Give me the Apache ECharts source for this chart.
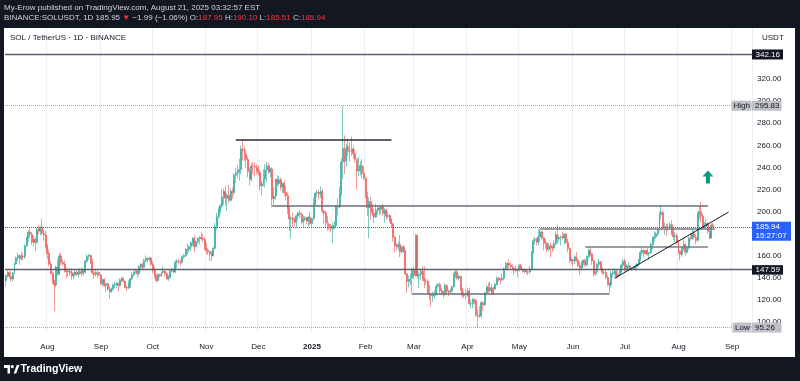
<!DOCTYPE html>
<html><head><meta charset="utf-8">
<script src="https://cdn.jsdelivr.net/npm/echarts@6/dist/echarts.min.js"></script>
<style>html,body{margin:0;padding:0;background:#131722}#c{width:800px;height:381px}</style>
</head><body><div id="c"></div>
<script>
// ---- DATA: daily SOL/USDT candles, each [open, close, low, high] ----
const jul24 = [[137.6,142.0,132.5,143.5],[142.0,144.9,140.5,147.0],[144.9,141.6,139.5,146.5],[141.6,139.1,136.8,146.0],[139.1,144.6,137.0,145.5],[144.6,152.9,144.0,154.5],[152.9,158.2,151.8,159.5],[158.2,160.4,155.5,162.8],[160.4,158.0,152.0,161.2],[158.0,159.6,156.0,163.5],[159.6,159.3,156.2,162.0],[159.3,168.9,157.5,170.5],[168.9,176.9,168.0,177.5],[176.9,181.7,172.5,183.2],[181.7,179.6,176.0,185.0],[179.6,172.4,170.0,181.5],[172.4,175.0,168.5,178.0],[175.0,172.1,164.5,176.5],[172.1,184.1,171.5,186.0],[184.1,182.5,179.5,188.0],[182.5,186.0,179.0,187.2],[186.0,180.2,178.5,193.7],[180.2,179.0,174.0,184.0],[179.0,168.9,167.0,182.5]];
const aug24 = [[168.9,162.3,157.0,170.5],[162.3,152.6,151.0,166.0],[152.6,144.6,142.5,155.0],[144.6,137.0,134.5,146.0],[137.0,133.8,110.0,138.5],[133.8,150.0,131.5,151.5],[150.0,143.6,142.0,157.5],[143.6,160.0,142.5,163.0],[160.0,154.1,151.5,162.5],[154.1,152.6,151.0,156.5],[152.6,146.2,145.0,156.0],[146.2,145.8,139.5,149.5],[145.8,146.2,141.5,148.5],[146.2,144.7,142.0,149.0],[144.7,141.9,138.5,149.0],[141.9,143.0,139.0,145.5],[143.0,145.5,141.5,147.0],[145.5,143.0,142.0,148.0],[143.0,145.9,140.5,147.5],[145.9,143.8,143.0,149.0],[143.8,147.2,141.5,149.5],[147.2,145.3,142.0,148.5],[145.3,155.2,144.5,156.5],[155.2,159.6,154.0,161.5],[159.6,160.5,156.5,162.0],[160.5,154.5,152.5,161.0],[154.5,144.8,143.0,157.5],[144.8,143.3,139.0,147.0],[143.3,145.2,141.5,148.5],[145.2,145.2,140.0,146.5],[145.2,143.0,142.0,145.5]];
const sep24 = [[143.0,135.0,133.0,143.5],[135.0,138.5,132.5,139.5],[138.5,133.2,132.0,140.0],[133.2,134.9,127.5,135.8],[134.9,130.0,128.5,136.0],[130.0,127.8,121.5,132.5],[127.8,130.1,126.5,131.5],[130.1,133.8,128.0,135.0],[133.8,134.7,130.5,137.0],[134.7,135.2,131.0,136.8],[135.2,133.3,128.0,136.0],[133.3,138.5,132.5,139.5],[138.5,139.9,136.5,141.5],[139.9,137.0,136.0,140.5],[137.0,131.5,130.5,138.0],[131.5,131.0,128.5,133.5],[131.0,134.6,130.0,138.0],[134.6,139.4,131.0,140.0],[139.4,143.0,138.0,145.5],[143.0,145.2,141.5,147.0],[145.2,146.3,144.0,147.5],[146.3,143.9,140.5,147.0],[143.9,150.4,142.5,151.5],[150.4,152.2,146.5,153.5],[152.2,149.8,148.0,154.0],[149.8,155.7,148.5,157.5],[155.7,157.9,154.5,160.5],[157.9,157.1,154.0,158.5],[157.1,158.0,155.0,159.0],[158.0,152.5,151.0,159.0]];
const oct24 = [[152.5,146.5,144.0,155.0],[146.5,142.0,140.0,150.5],[142.0,137.7,136.0,143.0],[137.7,143.3,137.0,144.5],[143.3,142.0,140.5,144.0],[142.0,145.2,141.0,146.0],[145.2,146.2,143.5,150.5],[146.2,143.8,141.5,147.0],[143.8,139.3,138.5,145.5],[139.3,140.5,137.5,143.0],[140.5,146.3,139.5,148.0],[146.3,147.5,145.0,149.0],[147.5,145.5,144.0,148.5],[145.5,154.3,144.5,156.0],[154.3,155.2,149.0,157.5],[155.2,155.0,152.0,158.0],[155.0,154.0,151.5,156.5],[154.0,159.4,153.0,160.5],[159.4,160.5,157.5,162.0],[160.5,166.0,159.0,167.0],[166.0,165.8,161.5,171.0],[165.8,168.2,163.0,169.5],[168.2,171.9,164.0,173.5],[171.9,175.9,169.0,177.0],[175.9,168.4,163.5,179.0],[168.4,173.1,167.5,174.0],[173.1,175.9,170.5,177.0],[175.9,176.7,170.5,178.0],[176.7,175.6,174.0,181.5],[175.6,174.9,172.5,180.0],[174.9,166.6,165.0,177.0]];
const nov24 = [[166.6,165.2,161.5,172.0],[165.2,163.9,161.0,167.0],[163.9,161.9,155.5,164.5],[161.9,160.1,155.5,164.5],[160.1,166.9,159.5,168.5],[166.9,186.4,166.0,190.0],[186.4,195.4,183.5,199.0],[195.4,201.8,193.5,204.0],[201.8,205.3,198.5,207.0],[205.3,213.2,203.0,220.0],[213.2,218.1,206.0,221.0],[218.1,212.1,205.5,223.5],[212.1,215.1,200.5,217.0],[215.1,210.3,207.5,224.0],[210.3,218.3,209.0,221.5],[218.3,217.2,211.5,222.0],[217.2,233.0,215.0,235.0],[233.0,235.0,226.0,239.5],[235.0,237.3,230.0,242.5],[237.3,238.1,228.0,248.0],[238.1,256.8,234.0,260.0],[256.8,255.7,246.0,264.6],[255.7,252.2,246.0,259.0],[252.2,247.2,239.5,256.0],[247.2,236.3,231.0,250.0],[236.3,229.3,223.5,240.0],[229.3,241.1,227.0,243.5],[241.1,240.9,233.5,245.0],[240.9,240.1,232.0,244.5],[240.1,237.6,233.5,243.0]];
const dec24 = [[237.6,235.6,232.5,242.0],[235.6,223.3,219.0,237.5],[223.3,225.4,214.5,228.0],[225.4,229.6,223.0,238.5],[229.6,237.8,222.0,243.0],[237.8,241.5,227.0,245.0],[241.5,235.8,234.0,244.0],[235.8,238.5,231.0,240.0],[238.5,211.7,204.0,240.0],[211.7,214.1,206.0,222.0],[214.1,229.1,210.5,230.0],[229.1,225.5,222.5,233.0],[225.5,228.9,223.5,232.0],[228.9,222.0,219.0,231.0],[222.0,225.5,217.0,226.5],[225.5,217.2,214.0,228.0],[217.2,214.5,210.0,223.5],[214.5,203.0,198.0,218.0],[203.0,193.5,182.5,205.0],[193.5,194.2,175.5,196.5],[194.2,192.0,186.0,199.0],[192.0,190.5,186.5,195.0],[190.5,196.3,185.5,197.5],[196.3,198.7,192.0,200.0],[198.7,197.6,194.0,201.5],[197.6,190.8,188.5,199.0],[190.8,192.9,186.5,196.5],[192.9,194.4,191.5,196.0],[194.4,191.6,188.5,195.5],[191.6,195.1,186.0,196.0],[195.1,189.3,188.0,199.5]];
const jan25 = [[189.3,193.6,187.0,194.5],[193.6,207.9,192.5,213.0],[207.9,216.8,205.0,217.5],[216.8,217.5,213.0,220.0],[217.5,215.9,211.0,219.5],[215.9,218.3,212.5,223.0],[218.3,200.5,198.5,221.0],[200.5,198.6,189.0,201.5],[198.6,190.1,186.5,201.0],[190.1,188.5,183.0,196.0],[188.5,186.8,183.5,190.5],[186.8,184.5,181.5,189.0],[184.5,187.0,171.5,190.0],[187.0,187.4,184.0,191.5],[187.4,205.0,186.0,206.0],[205.0,204.3,196.5,212.0],[204.3,216.0,203.0,222.5],[216.0,245.0,214.5,248.5],[245.0,257.2,230.0,295.8],[257.2,245.4,234.0,269.0],[245.4,259.0,241.0,261.5],[259.0,254.6,250.0,266.0],[254.6,254.7,245.0,263.0],[254.7,256.8,250.5,268.0],[256.8,252.2,248.0,260.0],[252.2,247.5,244.5,256.5],[247.5,236.8,220.0,248.0],[236.8,237.8,232.5,250.0],[237.8,241.7,233.0,246.0],[241.7,234.7,230.5,247.5],[234.7,230.3,228.0,241.0]];
const feb25 = [[230.3,214.0,212.0,231.5],[214.0,203.5,196.0,218.0],[203.5,209.2,176.0,213.0],[209.2,201.8,192.5,213.5],[201.8,198.5,196.0,207.0],[198.5,195.2,190.0,203.0],[195.2,201.2,194.0,207.5],[201.2,203.3,197.5,205.5],[203.3,202.3,196.5,205.0],[202.3,204.5,197.5,206.0],[204.5,198.4,196.0,207.0],[198.4,201.3,190.0,203.5],[201.3,195.8,193.0,202.5],[195.8,196.6,193.5,200.0],[196.6,192.7,190.5,198.0],[192.7,189.1,185.5,194.0],[189.1,176.9,173.0,190.0],[176.9,169.0,163.0,178.0],[169.0,168.2,165.0,171.5],[168.2,170.4,165.0,173.0],[170.4,163.7,159.0,179.0],[163.7,168.3,162.0,169.0],[168.3,164.5,163.0,170.0],[164.5,143.9,142.5,165.0],[143.9,136.9,126.5,144.5],[136.9,138.8,131.5,142.0],[138.8,140.2,134.0,144.0],[140.2,147.9,125.5,149.5]];
const mar25 = [[147.9,142.5,139.0,150.5],[142.5,178.6,141.0,180.0],[178.6,141.9,139.5,179.5],[141.9,143.3,131.0,146.0],[143.3,146.2,138.5,148.5],[146.2,139.5,137.5,151.0],[139.5,137.4,131.0,150.5],[137.4,137.0,133.5,140.0],[137.0,126.2,125.5,139.0],[126.2,124.2,120.0,133.5],[124.2,123.7,114.5,126.5],[123.7,124.5,118.5,128.0],[124.5,125.5,121.5,129.0],[125.5,132.6,124.0,134.5],[132.6,134.2,130.5,135.5],[134.2,128.4,126.0,136.0],[128.4,127.4,124.5,131.0],[127.4,126.1,122.0,128.5],[126.1,133.3,124.0,135.5],[133.3,127.9,125.5,134.5],[127.9,127.3,123.5,130.0],[127.3,128.2,126.0,130.5],[128.2,132.1,127.0,133.0],[132.1,142.9,131.5,145.0],[142.9,145.6,140.0,147.0],[145.6,139.9,138.5,147.0],[139.9,141.6,137.5,143.5],[141.6,129.4,128.5,142.0],[129.4,124.5,121.5,131.0],[124.5,125.1,122.5,128.0],[125.1,124.6,120.5,130.0]];
const apr25 = [[124.6,128.3,123.0,131.0],[128.3,116.9,115.5,131.5],[116.9,117.0,112.5,120.5],[117.0,120.3,113.0,122.5],[120.3,119.8,116.5,121.5],[119.8,106.2,105.0,121.0],[106.2,105.5,95.3,111.5],[105.5,106.5,104.0,114.5],[106.5,117.8,103.5,119.5],[117.8,115.8,110.5,118.5],[115.8,126.6,114.5,128.0],[126.6,132.0,124.5,134.0],[132.0,128.3,125.0,136.0],[128.3,131.2,127.5,136.5],[131.2,126.2,125.0,134.5],[126.2,130.0,124.5,132.0],[130.0,134.2,129.0,135.5],[134.2,139.9,133.5,141.5],[139.9,138.7,136.5,141.0],[138.7,138.3,134.5,140.5],[138.3,139.6,137.5,144.5],[139.6,148.6,138.0,149.5],[148.6,151.2,148.0,155.0],[151.2,153.5,146.5,154.0],[153.5,151.7,148.5,157.0],[151.7,150.2,148.0,154.0],[150.2,149.0,147.0,152.5],[149.0,147.2,142.5,150.5],[147.2,146.8,144.5,151.5],[146.8,147.5,140.5,148.5]];
const may25 = [[147.5,151.2,146.0,153.0],[151.2,148.3,147.0,153.0],[148.3,146.0,145.0,149.0],[146.0,146.7,144.0,148.0],[146.7,145.7,143.5,148.0],[145.7,145.6,142.5,147.0],[145.6,147.4,143.5,151.0],[147.4,163.2,147.0,164.5],[163.2,174.0,162.0,176.0],[174.0,174.9,170.5,177.5],[174.9,172.5,169.5,176.5],[172.5,177.2,170.0,184.0],[177.2,181.8,172.5,185.0],[181.8,176.3,174.0,183.0],[176.3,172.0,165.0,177.5],[172.0,171.5,166.5,175.5],[171.5,165.8,163.0,172.5],[165.8,169.1,164.5,171.5],[169.1,167.5,158.5,172.0],[167.5,167.2,163.5,170.0],[167.2,171.3,165.5,174.0],[171.3,179.2,170.0,182.0],[179.2,175.5,170.5,188.0],[175.5,176.6,173.0,178.5],[176.6,177.2,169.5,178.5],[177.2,176.3,174.5,182.0],[176.3,179.6,170.5,180.5],[179.6,172.1,170.5,181.0],[172.1,166.5,163.5,175.5],[166.5,155.7,153.5,167.5],[155.7,156.5,152.5,158.5]];
const jun25 = [[156.5,155.4,150.5,157.5],[155.4,159.2,152.5,160.5],[159.2,156.0,154.5,163.5],[156.0,151.3,150.0,158.0],[151.3,149.0,142.5,154.5],[149.0,153.6,146.5,155.5],[153.6,156.1,151.5,157.0],[156.1,152.0,150.5,157.5],[152.0,159.4,150.5,160.5],[159.4,165.0,157.5,168.5],[165.0,162.0,159.5,168.0],[162.0,155.5,152.0,163.0],[155.5,143.4,141.5,157.0],[143.4,145.9,142.0,148.5],[145.9,152.3,143.5,153.5],[152.3,154.6,150.0,157.5],[154.6,148.7,147.0,155.5],[148.7,145.0,143.5,149.5],[145.0,145.0,143.0,148.0],[145.0,140.5,139.0,148.0],[140.5,135.4,132.5,142.5],[135.4,133.6,126.3,136.5],[133.6,144.1,131.5,146.0],[144.1,145.2,140.5,147.5],[145.2,146.2,142.5,149.0],[146.2,141.5,139.5,147.5],[141.5,143.3,140.0,146.0],[143.3,145.5,142.0,147.0],[145.5,151.6,144.5,153.0],[151.6,155.3,149.0,157.5]];
const jul25 = [[155.3,147.3,145.5,157.5],[147.3,150.9,146.0,152.5],[150.9,151.0,148.5,154.5],[151.0,148.1,147.0,152.0],[148.1,148.5,146.5,149.5],[148.5,149.5,147.5,151.0],[149.5,150.3,146.5,152.5],[150.3,152.4,148.5,153.5],[152.4,156.0,151.0,157.5],[156.0,163.1,155.0,165.0],[163.1,165.0,160.5,168.5],[165.0,162.0,159.0,166.5],[162.0,164.9,161.0,166.0],[164.9,162.0,160.0,168.0],[162.0,163.1,156.5,163.5],[163.1,170.3,162.0,172.5],[170.3,176.4,166.0,177.5],[176.4,177.3,173.0,182.5],[177.3,179.9,175.5,181.5],[179.9,183.3,178.0,186.5],[183.3,197.3,182.5,200.5],[197.3,199.3,193.0,206.3],[199.3,185.9,183.5,201.5],[185.9,186.3,179.0,190.5],[186.3,186.1,178.0,189.0],[186.1,185.8,182.5,189.5],[185.8,188.2,184.0,190.5],[188.2,180.5,178.5,192.5],[180.5,177.4,174.5,186.0],[177.4,178.3,172.5,181.5],[178.3,172.4,170.5,180.5]];
const aug25 = [[172.4,164.5,161.5,174.5],[164.5,161.3,155.8,165.5],[161.3,167.0,159.0,168.5],[167.0,170.2,165.0,176.0],[170.2,163.3,160.5,172.0],[163.3,167.7,162.0,169.5],[167.7,175.9,165.5,177.5],[175.9,175.8,173.5,181.0],[175.8,180.3,174.5,183.5],[180.3,177.0,175.0,183.0],[177.0,174.2,170.5,179.5],[174.2,198.0,172.5,200.5],[198.0,200.1,193.0,205.0],[200.1,195.8,190.5,209.2],[195.8,186.1,183.5,198.0],[186.1,186.8,184.5,190.5],[186.8,189.5,184.5,193.5],[189.5,182.1,180.0,190.5],[182.1,176.2,175.0,185.0],[176.2,187.95,175.5,189.5],[187.95,185.94,185.51,190.10]];

// axis / drawing values
const firstDay = [2024, 6, 8];          // 2024-07-08
const axisDays = 432;                   // visible days incl. empty right margin
const monthNames = ['Jan','Feb','Mar','Apr','May','Jun','Jul','Aug','Sep','Oct','Nov','Dec'];
const priceTicks = [100,120,140,160,180,200,220,240,260,280,300,320];
const fullLevels = [342.16, 147.59];
const segLevels = [ // [startDate, endDate, price]
  ['2024-11-18','2025-02-16',264.8],
  ['2024-12-09','2025-08-18',205.2],
  ['2025-02-28','2025-06-22',126.2],
  ['2025-05-13','2025-08-22',184.4],
  ['2025-06-08','2025-08-18',168.5]
];
const trendPts = [['2025-06-25',139.8],['2025-08-30',199.7]];
const arrowPt = ['2025-08-18',231.4];
const lastPrice = 185.94, countdown = '15:27:07';
const highPrice = 295.83, lowPrice = 95.26;

// ---- build ----
const candles = [].concat(jul24,aug24,sep24,oct24,nov24,dec24,jan25,feb25,mar25,apr25,may25,jun25,jul25,aug25);
const dates = [];
for (let i = 0; i < axisDays; i++) {
  const d = new Date(Date.UTC(firstDay[0], firstDay[1], firstDay[2] + i));
  dates.push(d.toISOString().slice(0, 10));
}
const isMonthStart = (idx, val) => val.slice(8) === '01';
const FONT = 'Liberation Sans, Arial, DejaVu Sans, sans-serif';
const UP = '#26a69a', DN = '#ef5350', INK = '#131722';

const segStyles = [
  {color:'#2a2e39', width:1.5},
  {color:'#6a6d78', width:1.5},
  {color:'#6a6d78', width:1.5},
  {color:'#7b7e88', width:1.5},
  {color:'#7b7e88', width:1.5}
];
const markLineData = [];
fullLevels.forEach(v => markLineData.push({yAxis: v, lineStyle:{color:'#5d606b', width:1.3, type:'solid'}}));
markLineData.push({yAxis: highPrice, lineStyle:{color:'#a3a6af', width:1, type:'dotted'}});
markLineData.push({yAxis: lowPrice, lineStyle:{color:'#a3a6af', width:1, type:'dotted'}});
markLineData.push({yAxis: lastPrice, lineStyle:{color:'#2962ff', width:1, type:'dotted'}});
segLevels.forEach((s, i) => markLineData.push([
  {coord:[s[0], s[2]], lineStyle:{color:segStyles[i].color, width:segStyles[i].width, type:'solid'}},
  {coord:[s[1], s[2]]}
]));
markLineData.push([
  {coord:trendPts[0], lineStyle:{color:INK, width:1, type:'solid'}},
  {coord:trendPts[1]}
]);

const chart = echarts.init(document.getElementById('c'), null, {renderer:'canvas'});
chart.setOption({
  animation:false,
  backgroundColor:'#ffffff',
  textStyle:{fontFamily:FONT},
  grid:{left:5, right:48, top:28, bottom:48},
  xAxis:{
    type:'category', data:dates, boundaryGap:true,
    axisLine:{show:false}, axisTick:{show:false},
    axisLabel:{
      interval:isMonthStart, margin:10, fontSize:8, color:INK, fontFamily:FONT,
      formatter: v => v.slice(5,7) === '01' ? '{b|' + v.slice(0,4) + '}' : monthNames[+v.slice(5,7) - 1],
      rich:{b:{fontWeight:'bold', fontSize:8, color:INK, fontFamily:FONT}}
    },
    splitLine:{show:true, interval:isMonthStart, lineStyle:{color:'#eceef2', width:1}}
  },
  yAxis:{
    type:'value', position:'right', min:90.32, max:366.1, scale:true,
    axisLine:{show:false}, axisTick:{show:false}, splitLine:{show:false},
    axisLabel:{customValues:priceTicks, formatter: v => v.toFixed(2), fontSize:8, color:INK, margin:5, fontFamily:FONT}
  },
  series:[{
    type:'candlestick', data:candles, barWidth:1.45,
    itemStyle:{color:UP, color0:DN, borderColor:UP, borderColor0:DN, borderWidth:0.6},
    markLine:{silent:true, symbol:'none', label:{show:false}, animation:false, data:markLineData},
    markPoint:{silent:true, label:{show:false}, animation:false, data:[{
      coord:arrowPt, symbol:'path://M5.5,0 L11,6 L7.5,6 L7.5,13 L3.5,13 L3.5,6 L0,6 Z',
      symbolSize:[11,13], itemStyle:{color:'#089981'}
    }]}
  }]
});

// ---- chrome & price-scale labels ----
const py = v => chart.convertToPixel({yAxisIndex:0}, v);
const g = [];
const Z = 100;
const rect = (x,y,w,h,fill) => g.push({type:'rect', z:Z, shape:{x,y,width:w,height:h}, style:{fill}});
const text = (x,y,t,fill,size,weight) => g.push({type:'text', z:Z+1, x, y, style:{text:t, fill, font:(weight||'normal')+' '+size+'px '+FONT, verticalAlign:'middle', align:'left'}});

// frame
rect(0,0,800,28,INK); rect(0,357,800,24,INK); rect(0,28,4,329,INK); rect(795,28,5,329,INK);
text(4,7.5,'My-Erow published on TradingView.com, August 21, 2025 03:32:57 EST','#d1d4dc',8);
g.push({type:'text', z:Z+1, x:4, y:17.5, style:{
  text:'{w|BINANCE:SOLUSDT, 1D 185.95 }{r|▼}{w| −1.99 (−1.06%) O:}{r|187.95}{w| H:}{r|190.10}{w| L:}{r|185.51}{w| C:}{r|185.94}',
  font:'8px '+FONT, verticalAlign:'middle', align:'left',
  rich:{w:{fill:'#d1d4dc', fontSize:8, fontFamily:FONT}, r:{fill:'#f23645', fontSize:8, fontFamily:FONT}}
}});
text(10,37.5,'SOL / TetherUS · 1D · BINANCE',INK,8);
text(762,37.5,'USDT',INK,8);

// price boxes
const yTop = py(fullLevels[0]);
rect(752, yTop-5, 31, 10, INK); text(755.5, yTop, fullLevels[0].toFixed(2), '#ffffff', 8);
const yHi = py(highPrice);
rect(731.5, yHi-5, 20, 10, '#bfc1c7'); text(733.5, yHi, 'High', INK, 8);
rect(752, yHi-5, 29.5, 10, '#bfc1c7'); text(755, yHi, highPrice.toFixed(2), INK, 8);
const yLast = py(lastPrice);
rect(752, yLast-5.6, 39, 19, '#2962ff'); text(755.5, yLast, lastPrice.toFixed(2), '#ffffff', 8); text(755.5, yLast+9, countdown, '#ffffff', 8);
const yMid = py(fullLevels[1]);
rect(752, yMid-4.5, 31, 9.5, INK); text(755.5, yMid, fullLevels[1].toFixed(2), '#ffffff', 8);
const yLo = py(lowPrice);
rect(732.5, yLo-5, 19, 10, '#bfc1c7'); text(735, yLo, 'Low', INK, 8);
rect(752, yLo-5, 29.5, 10, '#bfc1c7'); text(755, yLo, lowPrice.toFixed(2), INK, 8);

// footer logo
rect(4,365,6,3,'#ffffff'); rect(7.5,365,2.5,8.5,'#ffffff');
g.push({type:'circle', z:Z, shape:{cx:12.3, cy:366.6, r:1.6}, style:{fill:'#ffffff'}});
g.push({type:'polygon', z:Z, shape:{points:[[13.6,373.5],[16.8,365],[19.4,365],[16.2,373.5]]}, style:{fill:'#ffffff'}});
text(20.5,369.5,'TradingView','#ffffff',10.5,'600');

chart.setOption({graphic:g});
</script>
</body></html>
